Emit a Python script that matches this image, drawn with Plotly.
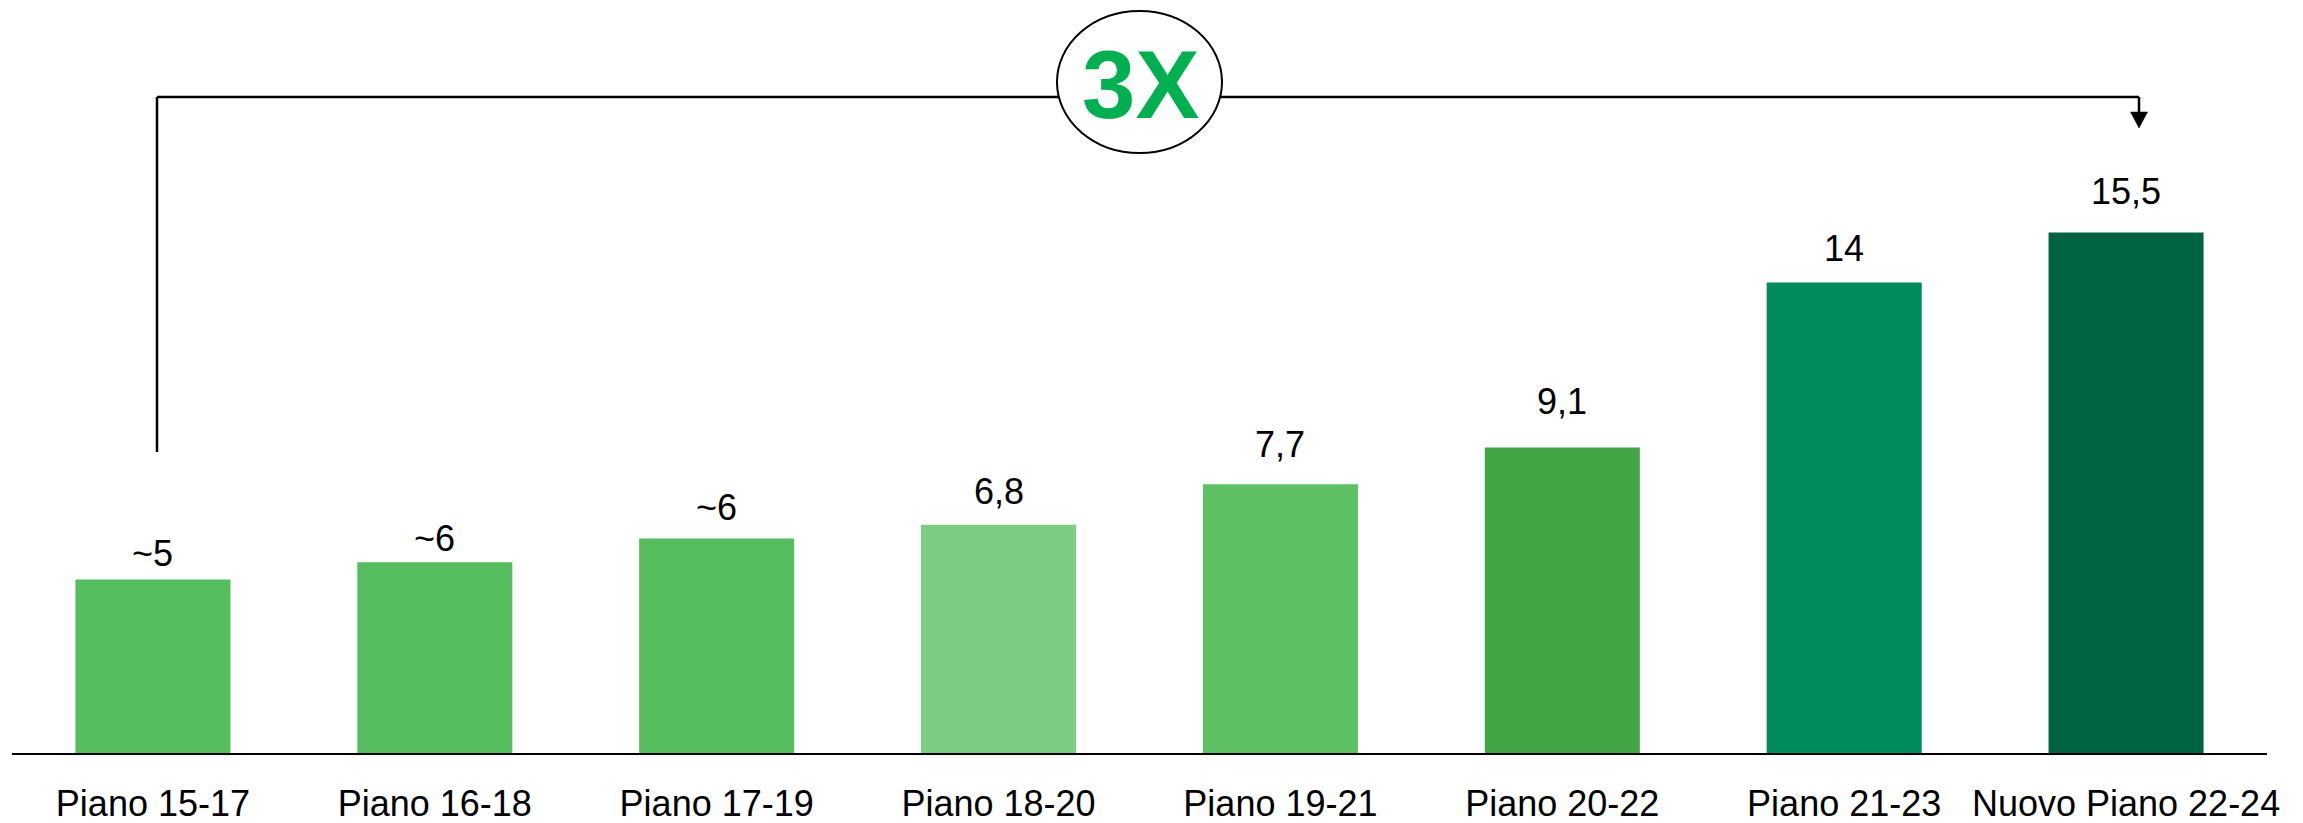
import plotly.graph_objects as go

# ---- data ----
categories = ["Piano 15-17", "Piano 16-18", "Piano 17-19", "Piano 18-20",
              "Piano 19-21", "Piano 20-22", "Piano 21-23", "Nuovo Piano 22-24"]
values = [5.17, 5.68, 6.39, 6.80, 8.0, 9.10, 14.01, 15.5]
value_labels = ["~5", "~6", "~6", "6,8", "7,7", "9,1", "14", "15,5"]
multiplier_label = "3X"

# ---- styles ----
bar_colors = ["#55BD5D", "#55BD5D", "#55BD5D", "#7CCC83",
              "#5DC063", "#41A445", "#008C5A", "#006342"]
label_shift = [3, 1, 8, 11, 17, 23, 12, 19]  # px offsets above bars
FONT = "Liberation Sans, Arial, sans-serif"

W, H = 2303, 823
ML, MR, MT, MB = 12, 36, 0, 70
PW, PH = W - ML - MR, H - MT - MB
PX_PER_UNIT = 33.58
YMAX = PH / PX_PER_UNIT


def xp(px):
    return (px - ML) / PW


def yp(py):
    return (H - MB - py) / PH


fig = go.Figure()
fig.add_trace(go.Bar(
    x=categories, y=values, marker=dict(color=bar_colors, line=dict(width=0)),
    hoverinfo="skip", showlegend=False,
))

annotations = []
for c, v, t, s in zip(categories, values, value_labels, label_shift):
    annotations.append(dict(
        x=c, y=v, text=t, showarrow=False, yanchor="bottom", xanchor="center",
        yshift=s, font=dict(family=FONT, size=36, color="black"),
    ))

# bracket
line_y = 97
left_x, right_x = 157, 2139
shapes = [
    dict(type="line", xref="paper", yref="paper", x0=xp(left_x), x1=xp(left_x),
         y0=yp(452), y1=yp(line_y), line=dict(color="black", width=2.5)),
    dict(type="line", xref="paper", yref="paper", x0=xp(left_x), x1=xp(right_x),
         y0=yp(line_y), y1=yp(line_y), line=dict(color="black", width=2.5)),
    dict(type="line", xref="paper", yref="paper", x0=xp(right_x), x1=xp(right_x),
         y0=yp(line_y), y1=yp(113), line=dict(color="black", width=2.5)),
    dict(type="path", xref="paper", yref="paper",
         path=f"M {xp(right_x-8.5)},{yp(112)} L {xp(right_x+8.5)},{yp(112)} L {xp(right_x)},{yp(128)} Z",
         fillcolor="black", line=dict(color="black", width=0.5)),
    dict(type="circle", xref="paper", yref="paper", x0=xp(1057), x1=xp(1222),
         y0=yp(153), y1=yp(11), fillcolor="white", line=dict(color="black", width=2)),
]
annotations.append(dict(
    xref="paper", yref="paper", x=xp(1140), y=yp(84), text=f"<b>{multiplier_label}</b>",
    showarrow=False, xanchor="center", yanchor="middle",
    font=dict(family=FONT, size=96, color="#00B050"),
))

fig.update_layout(
    width=W, height=H,
    margin=dict(l=ML, r=MR, t=MT, b=MB, pad=0),
    paper_bgcolor="white", plot_bgcolor="white",
    bargap=0.45,
    showlegend=False,
    shapes=shapes, annotations=annotations,
    xaxis=dict(showline=True, linecolor="black", linewidth=2, showgrid=False,
               zeroline=False, ticks="", ticklabelstandoff=18,
               tickfont=dict(family=FONT, size=36, color="black")),
    yaxis=dict(range=[0, YMAX], visible=False, showgrid=False, zeroline=False),
)

fig.write_html("out.html")
